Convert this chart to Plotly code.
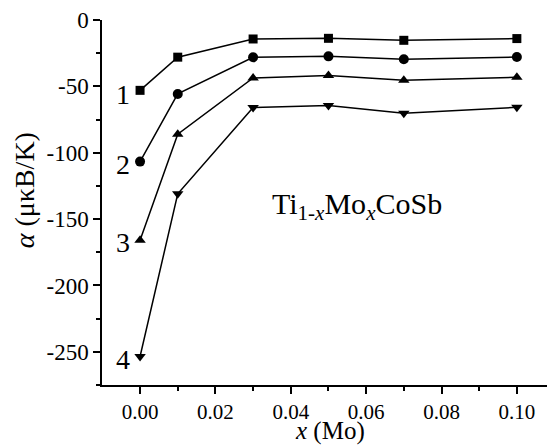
import plotly.graph_objects as go

x_vals = [0.0, 0.01, 0.03, 0.05, 0.07, 0.10]
s1 = [-53, -28, -14.3, -13.8, -15.3, -14.0]
s2 = [-106.7, -55.7, -28.1, -27.4, -29.6, -27.9]
s3 = [-166, -86, -43.7, -41.9, -45.4, -43.2]
s4 = [-253.5, -131, -66, -64.5, -70.3, -65.8]
series = [s1, s2, s3, s4]
symbols = ["square", "circle", "triangle-up", "triangle-down"]
labels = ["1", "2", "3", "4"]
label_y = [-56, -109, -168, -256]
x_ticks = [0, 0.02, 0.04, 0.06, 0.08, 0.10]
x_ticktext = ["0.00", "0.02", "0.04", "0.06", "0.08", "0.10"]
y_ticks = [0, -50, -100, -150, -200, -250]
y_ticktext = ["0", "-50", "-100", "-150", "-200", "-250"]

FONT = "Liberation Serif, Times New Roman, serif"
fig = go.Figure()
for ys, sym in zip(series, symbols):
    fig.add_trace(go.Scatter(
        x=x_vals, y=ys, mode="lines+markers",
        line=dict(color="black", width=1.5),
        marker=dict(symbol=sym, size=10 if sym != "square" else 9, color="black"),
        showlegend=False, cliponaxis=False))

for lab, ly in zip(labels, label_y):
    fig.add_annotation(x=-0.0045, y=ly, text=lab, showarrow=False,
                       font=dict(family=FONT, size=28, color="black"))

fig.add_annotation(x=0.0576, y=-140, showarrow=False,
                   text="Ti<sub>1-<i>x</i></sub>Mo<sub><i>x</i></sub>CoSb",
                   font=dict(family=FONT, size=30, color="black"))

fig.add_annotation(xref="paper", yref="paper", x=-0.175, y=0.534, showarrow=False,
                   textangle=-90, xanchor="center", yanchor="middle",
                   text="<i>α</i> (μκB/K)",
                   font=dict(family=FONT, size=28, color="black"))

fig.add_annotation(xref="paper", yref="paper", x=0.512, y=-0.126, showarrow=False,
                   xanchor="center", yanchor="middle",
                   text="<i>x</i> (Mo)",
                   font=dict(family=FONT, size=25, color="black"))

fig.update_xaxes(range=[-0.0101, 0.108], showline=True, linecolor="black", linewidth=1.5,
                 ticks="outside", ticklen=7, tickwidth=1.5, tickcolor="black",
                 tickvals=x_ticks, ticktext=x_ticktext,
                 minor=dict(tickvals=[0.01, 0.03, 0.05, 0.07, 0.09], ticks="outside", ticklen=4, tickcolor="black", tickwidth=1.5),
                 showgrid=False, zeroline=False,
                 tickfont=dict(family=FONT, size=21, color="black"))
fig.update_yaxes(range=[-275, 0], showline=True, linecolor="black", linewidth=1.5,
                 ticks="outside", ticklen=7, tickwidth=1.5, tickcolor="black",
                 tickvals=y_ticks, ticktext=y_ticktext,
                 minor=dict(tickvals=[-25, -75, -125, -175, -225, -275], ticks="outside", ticklen=4, tickcolor="black", tickwidth=1.5),
                 showgrid=False, zeroline=False,
                 tickfont=dict(family=FONT, size=23, color="black"))

fig.update_layout(width=547, height=447, margin=dict(l=102, r=0, t=20, b=62),
                  font=dict(family=FONT, color="black"),
                  plot_bgcolor="white", paper_bgcolor="white")
fig.write_html("out.html")
